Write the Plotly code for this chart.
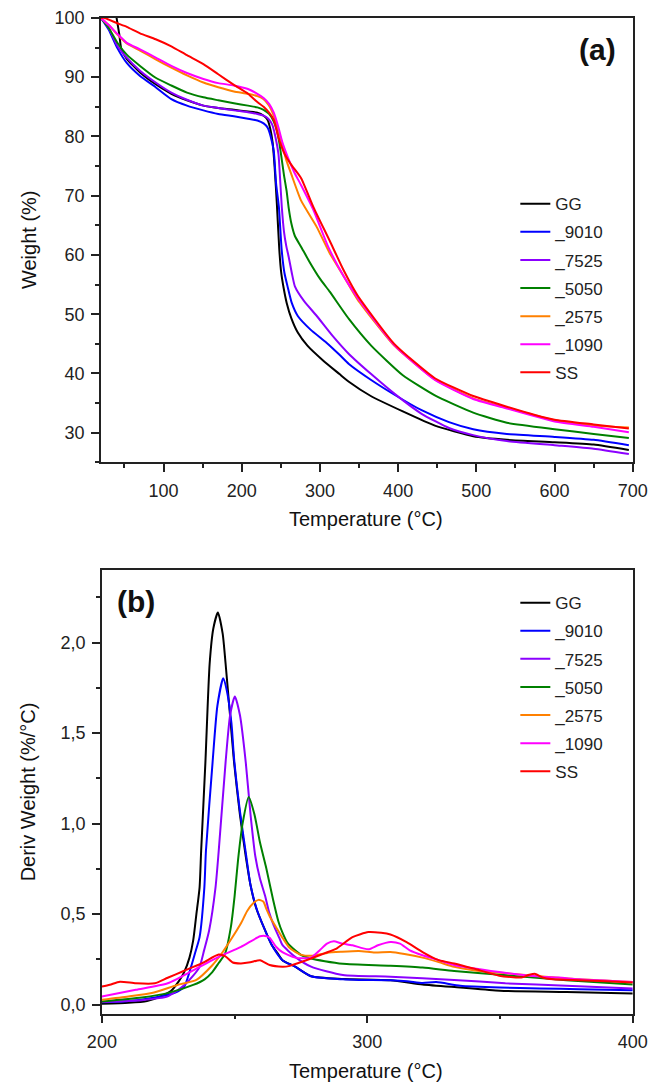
import plotly.graph_objects as go

# ---------------- TGA (panel a) ----------------
T_GG = [40, 41.5, 43.5, 46, 53, 70, 90, 110, 130, 151, 170, 190, 208, 220, 228, 233, 237, 239.5, 242, 245, 248, 250.5, 253.5, 257.5, 263.5, 271.7, 284, 304, 325, 337, 365, 406, 447, 496, 539, 600, 650, 695]
W_GG = [100, 98.8, 97.2, 94.8, 93.1, 90.8, 88.8, 87.2, 86.1, 85.2, 84.8, 84.5, 84.2, 84.0, 83.5, 82.8, 81.0, 79.0, 75.0, 68.5, 61.0, 57.0, 54.5, 51.9, 49.3, 46.9, 44.7, 42.2, 39.9, 38.6, 36.2, 33.6, 31.2, 29.4, 28.8, 28.4, 28.0, 27.1]

T_9010 = [20, 30, 41, 53, 70, 90, 110, 130, 151, 170, 190, 208, 220, 228, 233, 237, 241, 244, 247.6, 251, 254.6, 258.6, 264, 271.7, 288, 308.4, 324.7, 337, 365.5, 398, 430, 465, 496, 539, 600, 650, 695]
W_9010 = [100, 98.0, 94.9, 92.4, 90.2, 88.3, 86.3, 85.2, 84.4, 83.8, 83.4, 83.0, 82.7, 82.2, 81.5, 80.0, 77.5, 72.0, 68.0, 61.0, 57.0, 54.7, 51.9, 49.7, 47.4, 45.2, 43.2, 41.6, 38.9, 36.2, 33.8, 31.8, 30.6, 29.8, 29.3, 28.8, 27.9]

T_7525 = [20, 30, 41, 53, 70, 90, 110, 130, 151, 170, 190, 208, 220, 228, 234, 239, 243, 247, 249, 251.3, 254, 257, 260, 264, 268, 279.8, 296, 316.5, 337, 365.5, 398, 430, 465, 496, 539, 600, 650, 695]
W_7525 = [100, 98.3, 95.3, 93.3, 91.1, 89.1, 87.4, 86.2, 85.2, 84.8, 84.4, 84.1, 83.8, 83.5, 83.0, 82.0, 80.0, 77.0, 73.0, 68.0, 64.0, 61.5, 59.7, 57.0, 54.7, 52.2, 49.7, 46.3, 43.3, 39.9, 36.3, 33.2, 30.8, 29.6, 28.6, 27.9, 27.3, 26.4]

T_5050 = [20, 30, 41, 53, 70, 90, 110, 130, 151, 170, 190, 208, 220, 228, 235, 241, 245, 248, 251, 254, 257.4, 260, 263.5, 268, 275.8, 286, 300, 312.5, 337, 365.5, 406, 447, 496, 539, 600, 650, 695]
W_5050 = [100, 98.3, 95.8, 93.8, 91.9, 89.9, 88.6, 87.4, 86.6, 86.1, 85.6, 85.2, 84.9, 84.5, 83.8, 82.5, 81.0, 79.0, 76.3, 73.5, 70.8, 68.0, 65.3, 63.2, 61.4, 59.0, 56.0, 53.8, 49.2, 44.7, 39.7, 36.3, 33.4, 31.7, 30.6, 29.8, 29.1]

T_2575 = [20, 30, 41, 53, 70, 90, 110, 130, 151, 170, 190, 208, 220, 228, 235, 241, 246, 251, 257, 263.5, 275.8, 296, 312.5, 330, 348, 395, 447, 496, 539, 600, 650, 695]
W_2575 = [100, 98.8, 97.2, 95.7, 94.5, 93.0, 91.6, 90.3, 89.1, 88.3, 87.6, 87.2, 86.8, 86.3, 85.2, 83.5, 81.5, 79.1, 76.0, 73.6, 69.2, 64.7, 60.3, 56.5, 52.5, 44.7, 39.0, 35.8, 34.2, 32.1, 31.2, 30.9]

T_1090 = [20, 30, 41, 53, 70, 90, 110, 130, 151, 170, 190, 208, 220, 228, 235, 241, 247, 252, 259.5, 267, 275.8, 292, 310.5, 330, 348, 395, 447, 496, 539, 600, 650, 695]
W_1090 = [100, 98.8, 97.3, 95.8, 94.7, 93.3, 91.9, 90.7, 89.7, 89.0, 88.6, 88.0, 87.2, 86.5, 85.5, 84.0, 81.5, 79.0, 76.3, 74.0, 71.8, 67.5, 61.4, 56.5, 52.8, 44.8, 38.9, 35.7, 34.1, 31.9, 31.0, 30.1]

T_SS = [20, 25, 30, 41, 53, 70, 90, 110, 130, 151, 170, 190, 208, 220, 228, 235, 241, 247, 255, 263.5, 275.8, 292, 312.5, 330, 348, 395, 447, 496, 539, 575, 600, 650, 695]
W_SS = [100, 100, 99.7, 99.1, 98.5, 97.4, 96.4, 95.2, 93.7, 92.2, 90.5, 88.7, 87.2, 85.8, 85.0, 84.0, 82.8, 79.8, 77.0, 75.2, 73.0, 68.0, 62.4, 57.5, 53.2, 45.0, 39.2, 36.2, 34.4, 33.0, 32.2, 31.4, 30.7]

# ---------------- DTG (panel b) ----------------
dT_GG = [200, 210, 217, 222, 226, 229, 231, 233, 234.4, 235.6, 236.8, 237.4, 239, 240.6, 242, 243.7, 245.5, 246.6, 248.2, 249.8, 252, 254.2, 256, 258, 261.5, 264, 266.3, 268, 272.8, 278.8, 290.8, 308.7, 320.8, 335, 350, 375, 400]
D_GG = [0.005, 0.01, 0.02, 0.045, 0.075, 0.13, 0.18, 0.26, 0.355, 0.5, 0.647, 0.85, 1.34, 1.885, 2.08, 2.167, 2.05, 1.885, 1.612, 1.339, 1.05, 0.82, 0.66, 0.54, 0.41, 0.33, 0.282, 0.246, 0.21, 0.157, 0.142, 0.135, 0.112, 0.095, 0.077, 0.07, 0.062]

dT_9010 = [200, 210, 220, 227.2, 231, 233.2, 235, 236.8, 238.6, 239.2, 241.7, 243.5, 245.7, 247, 248.8, 249.8, 252, 254.2, 256, 258.5, 261.5, 264, 268, 272.8, 278.8, 290.8, 296.8, 308.7, 315, 320.8, 326, 335, 350, 365, 380, 400]
D_9010 = [0.013, 0.02, 0.04, 0.064, 0.1, 0.19, 0.28, 0.373, 0.647, 0.85, 1.339, 1.65, 1.803, 1.74, 1.557, 1.36, 1.07, 0.84, 0.66, 0.52, 0.41, 0.33, 0.246, 0.21, 0.157, 0.14, 0.137, 0.135, 0.13, 0.12, 0.125, 0.105, 0.095, 0.09, 0.085, 0.08]

dT_7525 = [200, 215, 224.8, 231.1, 234.4, 236.8, 238.5, 240.4, 242.8, 244, 246.6, 248.3, 250.1, 252, 254.2, 256, 257.8, 259.5, 261.5, 263, 264.7, 266.8, 268, 272.8, 278.8, 290.8, 308.7, 332.7, 352, 375, 400]
D_7525 = [0.015, 0.025, 0.046, 0.109, 0.16, 0.209, 0.3, 0.41, 0.647, 0.847, 1.339, 1.6, 1.703, 1.6, 1.339, 1.05, 0.82, 0.7, 0.6, 0.51, 0.44, 0.37, 0.33, 0.264, 0.21, 0.164, 0.155, 0.137, 0.118, 0.105, 0.09]

dT_5050 = [200, 215, 224.8, 234.4, 238.7, 241.6, 244, 246.4, 248.6, 250, 251.3, 253, 255.3, 257.5, 259.5, 261.5, 262, 264.5, 266.5, 268, 270, 272.8, 275, 278.8, 284, 290.8, 308.7, 320.8, 332.7, 352.5, 375, 400]
D_5050 = [0.018, 0.04, 0.064, 0.109, 0.14, 0.18, 0.23, 0.282, 0.43, 0.6, 0.8, 1.0, 1.148, 1.05, 0.9, 0.78, 0.75, 0.58, 0.46, 0.4, 0.34, 0.3, 0.275, 0.255, 0.24, 0.226, 0.215, 0.205, 0.186, 0.162, 0.135, 0.112]

dT_2575 = [200, 210, 218.8, 228.4, 235.6, 241.6, 245, 248.8, 252.4, 254.8, 257, 259, 260.8, 262, 263.5, 265.6, 268, 270.4, 273, 275.2, 278.8, 284.8, 290, 296.8, 302.8, 308.7, 314, 320.8, 326.9, 332.7, 340, 352.5, 375, 400]
D_2575 = [0.027, 0.045, 0.064, 0.109, 0.137, 0.218, 0.28, 0.364, 0.45, 0.519, 0.56, 0.579, 0.57, 0.528, 0.48, 0.428, 0.37, 0.319, 0.29, 0.275, 0.27, 0.286, 0.292, 0.297, 0.288, 0.291, 0.28, 0.26, 0.235, 0.209, 0.19, 0.173, 0.145, 0.125]

dT_1090 = [200, 212.8, 224.8, 236.8, 244, 252.4, 259.6, 261.5, 263.2, 265.6, 268, 272.8, 278.8, 282, 284.8, 287.4, 290, 294.4, 300.4, 304, 308.7, 312.3, 316, 320.8, 326.9, 332.7, 349.7, 365, 372, 380, 400]
D_1090 = [0.045, 0.082, 0.118, 0.209, 0.264, 0.319, 0.378, 0.38, 0.37, 0.32, 0.29, 0.26, 0.26, 0.3, 0.337, 0.35, 0.34, 0.328, 0.306, 0.328, 0.346, 0.337, 0.3, 0.273, 0.246, 0.219, 0.18, 0.155, 0.15, 0.14, 0.125]

dT_SS = [200, 203, 206.8, 212.8, 220, 224.8, 230.8, 238, 244, 246.4, 249.3, 252.4, 255.9, 259.6, 263.2, 268, 270.4, 274, 278.8, 284, 288.4, 294.4, 300.4, 305.2, 308.7, 314.8, 320.8, 326.9, 332.7, 340, 349.7, 358, 361, 363.3, 366, 370, 380, 390, 400]
D_SS = [0.1, 0.11, 0.127, 0.118, 0.118, 0.149, 0.186, 0.231, 0.277, 0.268, 0.233, 0.228, 0.234, 0.246, 0.219, 0.21, 0.213, 0.23, 0.255, 0.285, 0.31, 0.373, 0.401, 0.397, 0.388, 0.346, 0.291, 0.246, 0.228, 0.2, 0.16, 0.15, 0.165, 0.17, 0.15, 0.14, 0.135, 0.13, 0.122]

names = ["GG", "_9010", "_7525", "_5050", "_2575", "_1090", "SS"]
colors = ["#000000", "#0000FF", "#8B00FF", "#008000", "#FF8000", "#FF00FF", "#FF0000"]
tga = [(T_GG, W_GG), (T_9010, W_9010), (T_7525, W_7525), (T_5050, W_5050),
       (T_2575, W_2575), (T_1090, W_1090), (T_SS, W_SS)]
dtg = [(dT_GG, D_GG), (dT_9010, D_9010), (dT_7525, D_7525), (dT_5050, D_5050),
       (dT_2575, D_2575), (dT_1090, D_1090), (dT_SS, D_SS)]

FONT = "Liberation Sans, Arial, sans-serif"
fig = go.Figure()
for i, (n, c) in enumerate(zip(names, colors)):
    t, w = tga[i]
    fig.add_trace(go.Scatter(x=t, y=w, mode="lines", name=n, legendgroup="a" + n,
                             line=dict(color=c, width=2, shape="spline", smoothing=0.5),
                             xaxis="x", yaxis="y", legend="legend"))
for i, (n, c) in enumerate(zip(names, colors)):
    t, d = dtg[i]
    fig.add_trace(go.Scatter(x=t, y=d, mode="lines", name=n, legendgroup="b" + n,
                             line=dict(color=c, width=2, shape="spline", smoothing=0.6),
                             xaxis="x2", yaxis="y2", legend="legend2"))

W, H = 664, 1086
def px(x):
    return x / W
def py(y):
    return 1 - y / H

axis_common = dict(showline=True, linecolor="#222", linewidth=1.5, mirror=True,
                   ticks="outside", ticklen=8, tickwidth=1.5, tickcolor="#222",
                   showgrid=False, zeroline=False, ticklabeloverflow="allow",
                   ticklabelstandoff=3,
                   tickfont=dict(family=FONT, size=18, color="#222"))

leg_common = dict(xanchor="left", yanchor="top", bgcolor="rgba(0,0,0,0)",
                  font=dict(family=FONT, size=17, color="#222"),
                  tracegroupgap=3, itemwidth=30)

fig.update_layout(
    width=W, height=H, margin=dict(l=0, r=0, t=0, b=0),
    paper_bgcolor="white", plot_bgcolor="white",
    separators=",.",
    showlegend=True,
    xaxis=dict(domain=[px(90), px(647)], range=[20, 700], dtick=100, tick0=0,
               anchor="y", minor=dict(dtick=50, ticklen=4, ticks="outside", tickcolor="#222"),
               **axis_common),
    yaxis=dict(domain=[py(457), py(8)], range=[25, 100], dtick=10, tick0=0,
               anchor="x", minor=dict(dtick=5, ticklen=4, ticks="outside", tickcolor="#222"),
               **axis_common),
    xaxis2=dict(domain=[px(91), px(647)], range=[200, 400], dtick=100, tick0=0,
                anchor="y2", minor=dict(dtick=50, ticklen=4, ticks="outside", tickcolor="#222"),
                **axis_common),
    yaxis2=dict(domain=[py(1014), py(566)], range=[-0.05, 2.4], dtick=0.5, tick0=0,
                tickformat=".1f", anchor="x2",
                minor=dict(dtick=0.25, ticklen=4, ticks="outside", tickcolor="#222"),
                **axis_common),
    legend=dict(x=px(524), y=py(178), **leg_common),
    legend2=dict(x=px(524), y=py(581), **leg_common),
)

ann = [
    dict(text="Weight (%)", x=px(14), y=py(232), textangle=-90, size=20),
    dict(text="Temperature (°C)", x=px(368), y=py(514), textangle=0, size=20),
    dict(text="Deriv Weight (%/°C)", x=px(14), y=py(790), textangle=-90, size=20),
    dict(text="Temperature (°C)", x=px(368), y=py(1072), textangle=0, size=20),
    dict(text="<b>(a)</b>", x=px(610), y=py(40), textangle=0, size=30),
    dict(text="<b>(b)</b>", x=px(127), y=py(598), textangle=0, size=30),
]
for a in ann:
    fig.add_annotation(text=a["text"], x=a["x"], y=a["y"], xref="paper", yref="paper",
                       xanchor="center", yanchor="middle", showarrow=False,
                       textangle=a["textangle"],
                       font=dict(family=FONT, size=a["size"], color="#111"))

fig.write_html("out.html")
